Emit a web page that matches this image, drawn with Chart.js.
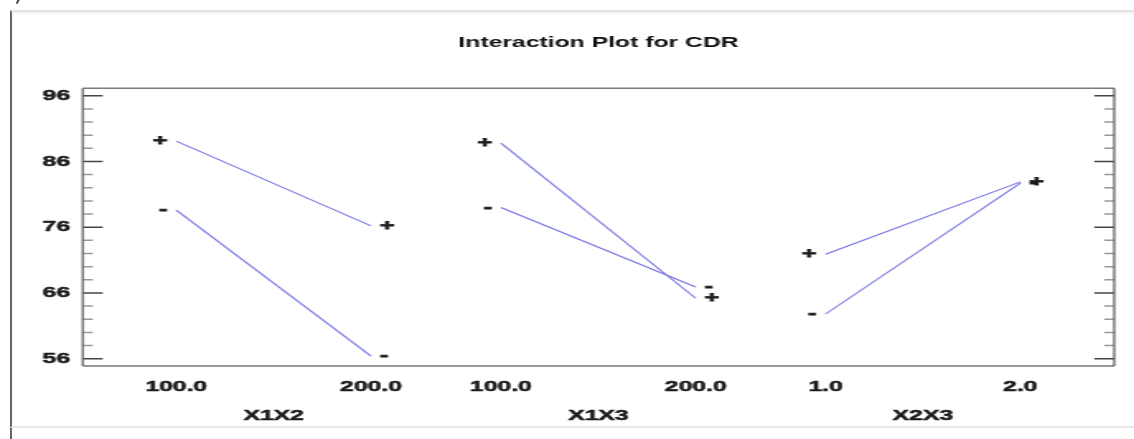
<!DOCTYPE html>
<html>
<head>
<meta charset="utf-8">
<script src="https://cdn.jsdelivr.net/npm/chart.js@4.4.1/dist/chart.umd.min.js"></script>
<style>
  html, body { margin: 0; padding: 0; background: #fff; overflow: hidden; }
  #page { position: relative; width: 1134px; height: 439px; background: #fff; }
  #frame {
    position: absolute; left: 10px; top: 10px; width: 1130px; height: 414px;
    border-left: 2px solid #666; border-top: 2px solid #e2e2e2; border-bottom: 2px solid #e8e8e8;
    box-shadow: inset 0 2px 3px rgba(0,0,0,0.05);
  }
  #frameTail { position: absolute; left: 10px; top: 428px; width: 2px; height: 11px; background: #666; }
  #nick { position: absolute; left: 17px; top: -2px; width: 2px; height: 6px; background: #444; transform: rotate(28deg); }
  #stretch { position: absolute; left: 0; top: 0; width: 688px; height: 439px; transform: scaleX(1.6483); transform-origin: 0 0; }
</style>
</head>
<body>
<div id="page">
  <div id="frame"></div>
  <div id="frameTail"></div>
  <div id="nick"></div>
  <div id="stretch"><canvas id="c" width="688" height="439"></canvas></div>
</div>
<script>
// Factor pairs and their two levels
const factors = ['X1X2', 'X1X3', 'X2X3'];
const levelLabels = [['100.0', '200.0'], ['100.0', '200.0'], ['1.0', '2.0']];
// Mean CDR at each level, second factor at its high (+) and low (-) setting
const plusMeans  = [[89.1, 76.2], [88.8, 65.2], [71.9, 82.9]];
const minusMeans = [[78.6, 56.4], [79.0, 66.9], [62.8, 82.7]];
// Value axis
const yTicks = [56, 66, 76, 86, 96];
const yMinor = [58, 60, 62, 64, 68, 70, 72, 74, 78, 80, 82, 84, 88, 90, 92, 94];

const PANEL_GAP = 5 / 3;          // distance between panel origins on the x scale
const xPos = (panel, level) => panel * PANEL_GAP + level;
const FONT = '"Liberation Sans", Arial, sans-serif';
const INK = '#1a1a1a';
const LINE = 'rgb(118,116,228)';

const datasets = [];
factors.forEach((f, k) => {
  [[plusMeans, '+'], [minusMeans, '-']].forEach(([series, sym]) => {
    datasets.push({
      label: f + ' ' + sym,
      symbol: sym,
      data: series[k].map((v, j) => ({ x: xPos(k, j), y: v })),
      borderColor: LINE,
      borderWidth: 1.1,
      pointRadius: 0,
      fill: false,
      tension: 0
    });
  });
});

const tickPositions = [];
const tickTexts = [];
levelLabels.forEach((lv, k) => lv.forEach((t, j) => { tickPositions.push(xPos(k, j)); tickTexts.push(t); }));

// heavier text: fill plus a thin outline of the same ink
function boldText(ctx, txt, x, y) {
  ctx.fillText(txt, x, y);
  ctx.strokeText(txt, x, y);
}

const decor = {
  id: 'decor',
  afterDraw(chart) {
    const { ctx, chartArea: a, scales: { x, y } } = chart;
    ctx.save();

    // inward tick marks on both vertical edges
    const drawTick = (v, len, color) => {
      const py = y.getPixelForValue(v);
      ctx.strokeStyle = color;
      ctx.lineWidth = 1.5;
      ctx.beginPath();
      ctx.moveTo(a.left, py); ctx.lineTo(a.left + len, py);
      ctx.moveTo(a.right, py); ctx.lineTo(a.right - len, py);
      ctx.stroke();
    };
    yMinor.forEach(v => drawTick(v, 6.1, '#9a9a9a'));
    yTicks.forEach(v => drawTick(v, 12.1, '#444'));

    // plot frame
    ctx.strokeStyle = '#7a7a7a';
    ctx.lineWidth = 1.6;
    ctx.beginPath();
    ctx.moveTo(a.left, a.top); ctx.lineTo(a.right, a.top);
    ctx.moveTo(a.left, a.bottom); ctx.lineTo(a.right, a.bottom);
    ctx.stroke();
    ctx.lineWidth = 1.2;
    ctx.strokeStyle = '#5a5a5a';
    ctx.beginPath();
    ctx.moveTo(a.left, a.top); ctx.lineTo(a.left, a.bottom);
    ctx.moveTo(a.right, a.top); ctx.lineTo(a.right, a.bottom);
    ctx.stroke();

    // +/- symbols beside the ends of each line
    ctx.fillStyle = INK;
    ctx.strokeStyle = INK;
    ctx.lineWidth = 0.9;
    ctx.font = 'bold 15px ' + FONT;
    ctx.textBaseline = 'middle';
    chart.data.datasets.forEach((ds, i) => {
      const pts = chart.getDatasetMeta(i).data;
      const first = pts[0], last = pts[pts.length - 1];
      ctx.textAlign = 'right';
      boldText(ctx, ds.symbol, first.x - 5.5, first.y);
      ctx.textAlign = 'left';
      boldText(ctx, ds.symbol, last.x + 5.5, last.y);
    });

    // factor names under each panel
    ctx.textAlign = 'center';
    ctx.lineWidth = 0.5;
    factors.forEach((f, k) => {
      boldText(ctx, f, x.getPixelForValue(xPos(k, 0.5)), 415.5);
    });
    ctx.restore();
  }
};

new Chart(document.getElementById('c'), {
  type: 'line',
  data: { datasets },
  options: {
    responsive: false,
    animation: false,
    events: [],
    layout: { padding: { left: 0, right: 12, top: 0, bottom: 0 } },
    plugins: {
      legend: { display: false },
      tooltip: { enabled: false },
      title: {
        display: true,
        text: 'Interaction Plot for CDR',
        fullSize: false,
        color: '#111',
        font: { family: FONT, size: 15, weight: 'bold', lineHeight: 1.2 },
        padding: { top: 34, bottom: 36.3 }
      }
    },
    scales: {
      x: {
        type: 'linear',
        min: -0.48,
        max: 2 * PANEL_GAP + 1.482,
        grid: { display: false },
        border: { display: false },
        afterBuildTicks: s => { s.ticks = tickPositions.map(v => ({ value: v })); },
        afterFit: s => { s.height = 73; },
        ticks: {
          autoSkip: false,
          maxRotation: 0,
          padding: 4,
          color: INK,
          textStrokeColor: INK,
          textStrokeWidth: 0.5,
          font: { family: FONT, size: 15, weight: 'bold', lineHeight: 1.2 },
          callback: (v, i) => tickTexts[i]
        }
      },
      y: {
        type: 'linear',
        min: 54.89,
        max: 97.13,
        grid: { display: false, drawTicks: false },
        border: { display: false },
        afterBuildTicks: s => { s.ticks = yTicks.map(v => ({ value: v })); },
        afterFit: s => { s.width = 50.2; },
        ticks: {
          padding: 7.7,
          color: INK,
          textStrokeColor: INK,
          textStrokeWidth: 0.5,
          font: { family: FONT, size: 15, weight: 'bold' }
        }
      }
    }
  },
  plugins: [decor]
});
</script>
</body>
</html>
